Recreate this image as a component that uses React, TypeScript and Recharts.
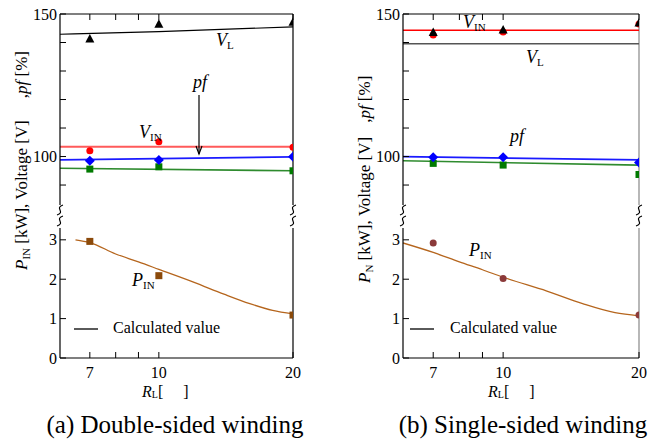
import React from "react";
import { ComposedChart, Line, Scatter, XAxis, YAxis, ReferenceLine } from "recharts";

const FONT = "'Liberation Serif', 'DejaVu Serif', serif";

// shared axes
const rl = [7, 10, 20];
const xTicks = [7, 8, 9, 10, 20];
const xLabelTicks = [7, 10, 20];
const upperTicks = [90, 100, 110, 120, 130, 140, 150];
const upperLabels = [100, 150];
const lowerTicks = [0, 1, 2, 3];

// (a) double-sided winding, measured
const aVlMeas = [141.2, 146.4, 147.1];
const aVinMeas = [102.0, 105.2, 103.3];
const aPfMeas = [98.5, 98.8, 99.9];
const aEffMeas = [95.6, 96.4, 95.0];
const aPinMeas = [2.96, 2.09, 1.09];
// (a) calculated
const aVlCalcRl = [6, 10, 20];
const aVlCalc = [142.9, 143.8, 145.5];
const aFlatRl = [6, 20];
const aVinCalc = [103.4, 103.4];
const aPfCalc = [98.8, 99.9];
const aEffCalc = [95.9, 95.0];
const aPinCalcRl = [6.5, 7, 8, 9, 10, 12, 14, 16, 18, 20];
const aPinCalc = [3.0, 2.93, 2.64, 2.44, 2.25, 1.92, 1.62, 1.38, 1.21, 1.12];

// (b) single-sided winding, measured
const bVlMeas = [143.5, 144.4, 146.8];
const bVinMeas = [142.6, 143.7, 146.5];
const bPfMeas = [99.75, 99.75, 97.9];
const bEffMeas = [97.6, 97.0, 93.7];
const bPinMeas = [2.92, 2.02, 1.09];
// (b) calculated
const bFlatRl = [6, 20];
const bVinCalc = [144.3, 144.3];
const bVlCalc = [139.6, 139.6];
const bPfCalc = [100.0, 98.8];
const bEffCalc = [98.5, 97.0];
const bPinCalcRl = [6, 7, 8, 9, 10, 12.5, 15, 17.7, 20];
const bPinCalc = [2.92, 2.68, 2.44, 2.24, 2.05, 1.7, 1.38, 1.15, 1.07];

const pts = (xs: number[], ys: number[]) => xs.map((x, i) => ({ x, y: ys[i] }));

type Kind = "line" | "tri" | "circle" | "square" | "diamond";
interface Series {
  name: string;
  xs: number[];
  ys: number[];
  color: string;
  kind: Kind;
  w?: number;
}

const marker = (kind: Kind, color: string) => (p: any) => {
  const { cx, cy } = p;
  if (kind === "tri")
    return <path d={`M${cx},${cy - 5}L${cx + 4.5},${cy + 3.5}L${cx - 4.5},${cy + 3.5}Z`} fill={color} />;
  if (kind === "square") return <rect x={cx - 3.5} y={cy - 3.5} width={7} height={7} fill={color} />;
  if (kind === "diamond")
    return <path d={`M${cx},${cy - 5}L${cx + 5},${cy}L${cx},${cy + 5}L${cx - 5},${cy}Z`} fill={color} />;
  return <circle cx={cx} cy={cy} r={3.5} fill={color} />;
};

const renderSeries = (xId: string, yId: string) => (s: Series) =>
  s.kind === "line" ? (
    <Line
      key={s.name}
      xAxisId={xId}
      yAxisId={yId}
      data={pts(s.xs, s.ys)}
      dataKey="y"
      type="monotone"
      stroke={s.color}
      strokeWidth={s.w ?? 1.5}
      dot={false}
      activeDot={false}
      isAnimationActive={false}
    />
  ) : (
    <Scatter
      key={s.name}
      xAxisId={xId}
      yAxisId={yId}
      data={pts(s.xs, s.ys)}
      dataKey="y"
      shape={marker(s.kind, s.color)}
      isAnimationActive={false}
    />
  );

const txt = { fontFamily: FONT };

// ticks drawn inward, labels outside
const yTick = (labels: number[]) => (p: any) => {
  const v = p.payload.value;
  return (
    <g>
      <line x1={p.x} x2={p.x + 6} y1={p.y} y2={p.y} stroke="#000" />
      {labels.includes(v) && (
        <text x={p.x - 3} y={p.y + 5.5} textAnchor="end" style={txt} fontSize={16} fill="#000">
          {v}
        </text>
      )}
    </g>
  );
};

const xTopTick = (p: any) => <line x1={p.x} x2={p.x} y1={p.y} y2={p.y + 6} stroke="#000" />;

const xBottomTick = (p: any) => {
  const v = p.payload.value;
  return (
    <g>
      <line x1={p.x} x2={p.x} y1={p.y} y2={p.y - 6} stroke="#000" />
      {xLabelTicks.includes(v) && (
        <text x={p.x} y={p.y + 20} textAnchor="middle" style={txt} fontSize={16} fill="#000">
          {v}
        </text>
      )}
    </g>
  );
};

interface PanelProps {
  left: number;
  width: number;
  plotLeft: number;
  plotRight: number;
  upper: Series[];
  lower: Series[];
  rightColor: string;
}

const axisLine = { stroke: "#000", strokeWidth: 1.2 };

const Panel = ({ left, width, plotLeft, plotRight, upper, lower, rightColor }: PanelProps) => {
  // axes get 1px of room, so margins are 1px smaller
  const mL = plotLeft - left - 1;
  const mR = left + width - plotRight;
  return (
    <>
      <div style={{ position: "absolute", left, top: 0 }}>
        <ComposedChart width={width} height={230} margin={{ top: 13, right: mR, bottom: 25, left: mL }}>
          <XAxis
            xAxisId="t"
            orientation="top"
            type="number"
            dataKey="x"
            scale="log"
            domain={[6, 20]}
            allowDataOverflow
            ticks={xTicks}
            interval={0}
            height={1}
            tickSize={0}
            tickMargin={0}
            tickLine={false}
            tick={xTopTick}
            axisLine={axisLine}
          />
          <YAxis
            yAxisId="u"
            type="number"
            domain={[83, 150]}
            allowDataOverflow
            ticks={upperTicks}
            interval={0}
            width={1}
            tickSize={0}
            tickMargin={0}
            tickLine={false}
            tick={yTick(upperLabels)}
            axisLine={axisLine}
          />
          <ReferenceLine xAxisId="t" yAxisId="u" x={20} stroke={rightColor} strokeWidth={1.2} />
          {upper.map(renderSeries("t", "u"))}
        </ComposedChart>
      </div>
      <div style={{ position: "absolute", left, top: 200 }}>
        <ComposedChart width={width} height={240} margin={{ top: 28, right: mR, bottom: 81, left: mL }}>
          <XAxis
            xAxisId="b"
            orientation="bottom"
            type="number"
            dataKey="x"
            scale="log"
            domain={[6, 20]}
            allowDataOverflow
            ticks={xTicks}
            interval={0}
            height={1}
            tickSize={0}
            tickMargin={0}
            tickLine={false}
            tick={xBottomTick}
            axisLine={axisLine}
          />
          <YAxis
            yAxisId="l"
            type="number"
            domain={[0, 3.3]}
            allowDataOverflow
            ticks={lowerTicks}
            interval={0}
            width={1}
            tickSize={0}
            tickMargin={0}
            tickLine={false}
            tick={yTick(lowerTicks)}
            axisLine={axisLine}
          />
          <ReferenceLine xAxisId="b" yAxisId="l" x={20} stroke={rightColor} strokeWidth={1.2} />
          {lower.map(renderSeries("b", "l"))}
        </ComposedChart>
      </div>
    </>
  );
};

const Sym = ({ x, y, main, sub }: { x: number; y: number; main: string; sub?: string }) => (
  <text x={x} y={y} style={txt} fontSize={18} fill="#000">
    <tspan fontStyle="italic">{main}</tspan>
    {sub && (
      <tspan fontSize={11} dy={3}>
        {sub}
      </tspan>
    )}
  </text>
);

const BreakMark = ({ x }: { x: number }) => (
  <g fill="none" stroke="#000" strokeWidth={1.2}>
    {[205, 216].map((y0) => (
      <path key={y0} d={`M${x + 3},${y0} C${x - 6},${y0 + 3} ${x + 6},${y0 + 7} ${x - 3},${y0 + 10}`} />
    ))}
  </g>
);

const YLabel = ({ x, y, sub, gap }: { x: number; y: number; sub: string; gap: number }) => (
  <text transform={`translate(${x},${y}) rotate(-90)`} style={txt} fontSize={17} fill="#000">
    <tspan fontStyle="italic">P</tspan>
    <tspan fontSize={11} dy={3}>
      {sub}
    </tspan>
    <tspan dy={-3}> [kW], Voltage [V]</tspan>
    <tspan dx={gap}>,</tspan>
    <tspan fontStyle="italic">pf</tspan>
    <tspan> [%]</tspan>
  </text>
);

const XLabel = ({ x }: { x: number }) => (
  <text x={x} y={397} style={txt} fontSize={16} fill="#000">
    <tspan fontStyle="italic">R</tspan>
    <tspan fontSize={10} dy={1}>
      L
    </tspan>
    <tspan dy={-1}>[</tspan>
    <tspan dx={20}>]</tspan>
  </text>
);

const panelA = {
  upper: [
    { name: "vlc", xs: aVlCalcRl, ys: aVlCalc, color: "#000", kind: "line", w: 1.2 },
    { name: "vinc", xs: aFlatRl, ys: aVinCalc, color: "#ff5a5a", kind: "line", w: 2 },
    { name: "pfc", xs: aFlatRl, ys: aPfCalc, color: "#1a1aff", kind: "line", w: 1.8 },
    { name: "effc", xs: aFlatRl, ys: aEffCalc, color: "#2e8b2e", kind: "line", w: 1.6 },
    { name: "vlm", xs: rl, ys: aVlMeas, color: "#000", kind: "tri" },
    { name: "vinm", xs: rl, ys: aVinMeas, color: "#ff0000", kind: "circle" },
    { name: "effm", xs: rl, ys: aEffMeas, color: "#007a00", kind: "square" },
    { name: "pfm", xs: rl, ys: aPfMeas, color: "#0000ff", kind: "diamond" },
  ] as Series[],
  lower: [
    { name: "pinc", xs: aPinCalcRl, ys: aPinCalc, color: "#b5651d", kind: "line", w: 1.3 },
    { name: "pinm", xs: rl, ys: aPinMeas, color: "#8b4a0b", kind: "square" },
  ] as Series[],
};

const panelB = {
  upper: [
    { name: "vinc", xs: bFlatRl, ys: bVinCalc, color: "#ff0000", kind: "line", w: 1.5 },
    { name: "vlc", xs: bFlatRl, ys: bVlCalc, color: "#555", kind: "line", w: 1.5 },
    { name: "effc", xs: bFlatRl, ys: bEffCalc, color: "#2e8b2e", kind: "line", w: 1.6 },
    { name: "pfc", xs: bFlatRl, ys: bPfCalc, color: "#1a1aff", kind: "line", w: 1.8 },
    { name: "vinm", xs: rl, ys: bVinMeas, color: "#ff0000", kind: "circle" },
    { name: "vlm", xs: rl, ys: bVlMeas, color: "#000", kind: "tri" },
    { name: "effm", xs: rl, ys: bEffMeas, color: "#007a00", kind: "square" },
    { name: "pfm", xs: rl, ys: bPfMeas, color: "#0000ff", kind: "diamond" },
  ] as Series[],
  lower: [
    { name: "pinc", xs: bPinCalcRl, ys: bPinCalc, color: "#b5651d", kind: "line", w: 1.3 },
    { name: "pinm", xs: rl, ys: bPinMeas, color: "#8b3a3a", kind: "circle" },
  ] as Series[],
};

export default function App() {
  return (
    <div style={{ position: "absolute", left: 0, top: 0, width: 661, height: 440, background: "#fff" }}>
      <Panel left={0} width={330} plotLeft={60} plotRight={293} rightColor="#000" {...panelA} />
      <Panel left={330} width={331} plotLeft={403} plotRight={639} rightColor="#888" {...panelB} />
      <svg width={661} height={440} style={{ position: "absolute", left: 0, top: 0, pointerEvents: "none" }}>
        <YLabel x={27} y={270} sub="IN" gap={22} />
        <YLabel x={370} y={283} sub="N" gap={14} />
        <BreakMark x={60} />
        <BreakMark x={293} />
        <BreakMark x={403} />
        <BreakMark x={639} />

        <Sym x={216} y={46} main="V" sub="L" />
        <text x={193} y={88} style={txt} fontSize={18} fontStyle="italic">
          pf
        </text>
        <g stroke="#000" strokeWidth={1.2} fill="none">
          <line x1={199} y1={95} x2={199} y2={154} />
          <path d="M196,146 L199,154 L202,146" />
        </g>
        <Sym x={139} y={138} main="V" sub="IN" />
        <Sym x={132} y={286} main="P" sub="IN" />

        <Sym x={463} y={28} main="V" sub="IN" />
        <Sym x={526} y={63} main="V" sub="L" />
        <text x={510} y={142} style={txt} fontSize={18} fontStyle="italic">
          pf
        </text>
        <Sym x={469} y={256} main="P" sub="IN" />

        <line x1={74} y1={329} x2={98} y2={329} stroke="#000" strokeWidth={1.3} />
        <text x={113} y={333} style={txt} fontSize={16}>
          Calculated value
        </text>
        <line x1={410} y1={329} x2={434} y2={329} stroke="#000" strokeWidth={1.3} />
        <text x={450} y={333} style={txt} fontSize={16}>
          Calculated value
        </text>

        <XLabel x={142} />
        <XLabel x={488} />

        <text x={175} y={433} textAnchor="middle" style={txt} fontSize={25}>
          (a) Double-sided winding
        </text>
        <text x={523} y={433} textAnchor="middle" style={txt} fontSize={25}>
          (b) Single-sided winding
        </text>
      </svg>
    </div>
  );
}
